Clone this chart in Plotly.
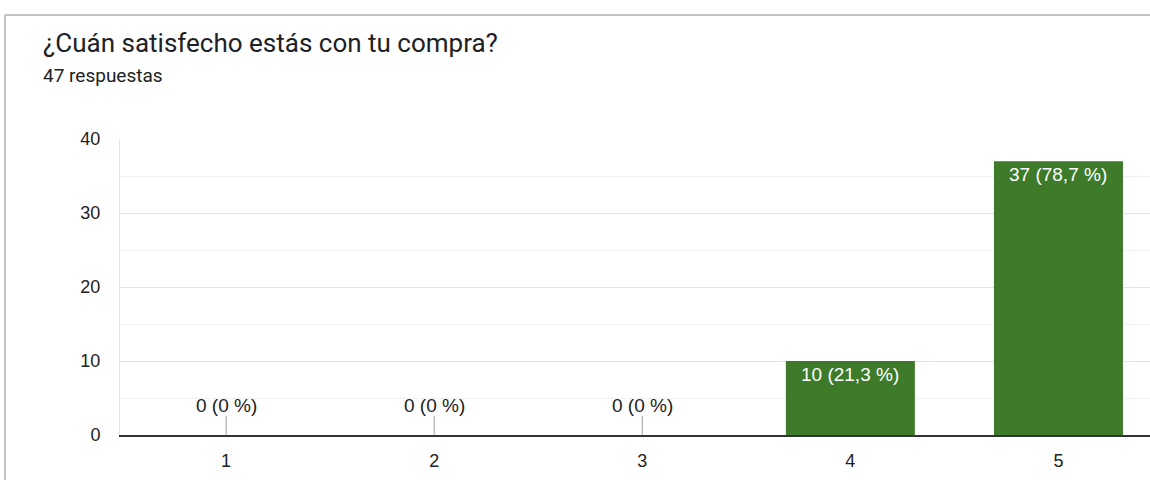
import plotly.graph_objects as go

# Datos del formulario
categorias = [1, 2, 3, 4, 5]
respuestas = [0, 0, 0, 10, 37]
etiquetas = ["0 (0 %)", "0 (0 %)", "0 (0 %)", "10 (21,3 %)", "37 (78,7 %)"]
titulo = "¿Cuán satisfecho estás con tu compra?"
subtitulo = "47 respuestas"

_BAR = "#3d7a2a"
_TEXT = "#222222"
_BORDER = "#c4c4c4"

# Plot area in pixels: x 120..1150, y 139..435
W, H = 1150, 480
L, T, B = 120, 139, 45
pw, ph = W - L, H - T - B


def px_x(x):
    return (x - L) / pw


def px_y(y):
    return (H - B - y) / ph


fig = go.Figure()

fig.add_trace(
    go.Bar(
        x=categorias,
        y=respuestas,
        width=0.62,
        marker={"color": _BAR, "line": {"width": 0}},
        hoverinfo="skip",
    )
)

# Small stems for empty categories
for c, v in zip(categorias, respuestas):
    if v == 0:
        fig.add_trace(
            go.Scatter(
                x=[c, c],
                y=[0, 2.6],
                mode="lines",
                line={"color": "#9e9e9e", "width": 1},
                hoverinfo="skip",
            )
        )

for c, v, lab in zip(categorias, respuestas, etiquetas):
    if v == 0:
        fig.add_annotation(
            x=c, y=v, text=lab, showarrow=False, yanchor="bottom", yshift=17,
            font={"size": 19, "color": _TEXT, "family": "Liberation Sans, Arial"},
        )
    else:
        fig.add_annotation(
            x=c, y=v, text=lab, showarrow=False, yanchor="top", yshift=-1,
            font={"size": 19, "color": "white", "family": "Liberation Sans, Arial"},
        )

# Title and subtitle
fig.add_annotation(
    xref="paper", yref="paper", x=px_x(41), y=px_y(43), text=titulo,
    showarrow=False, xanchor="left", yanchor="middle",
    font={"size": 26, "color": "#202124", "family": "Roboto"},
)
fig.add_annotation(
    xref="paper", yref="paper", x=px_x(41), y=px_y(75), text=subtitulo,
    showarrow=False, xanchor="left", yanchor="middle",
    font={"size": 19, "color": "#202124", "family": "Roboto"},
)

# Card border (top and left edges)
fig.add_shape(type="line", xref="paper", yref="paper",
              x0=px_x(5), x1=1.0, y0=px_y(15), y1=px_y(15),
              line={"color": _BORDER, "width": 2})
fig.add_shape(type="line", xref="paper", yref="paper",
              x0=px_x(5), x1=px_x(5), y0=px_y(15), y1=px_y(480),
              line={"color": _BORDER, "width": 2})

fig.update_layout(
    width=W,
    height=H,
    margin={"l": L, "r": 0, "t": T, "b": B},
    showlegend=False,
    plot_bgcolor="white",
    paper_bgcolor="white",
    font={"family": "Liberation Sans, Arial", "size": 18, "color": "#444444"},
    bargap=0.38,
)
fig.update_xaxes(
    range=[0.49, 5.44],
    tickvals=categorias,
    ticktext=[str(c) for c in categorias],
    showgrid=False,
    zeroline=False,
    showline=True,
    linecolor="#333333",
    linewidth=2,
    ticks="",
    ticklabelstandoff=8,
    tickfont={"color": "#222222"},
)
fig.update_yaxes(
    range=[0, 40],
    tickvals=[0, 10, 20, 30, 40],
    showgrid=True,
    gridcolor="#e4e4e4",
    gridwidth=1,
    minor={"dtick": 5, "showgrid": True, "gridcolor": "#f1f1f1"},
    zeroline=False,
    showline=True,
    linecolor="#e4e4e4",
    linewidth=1,
    ticks="",
    ticklabelstandoff=15,
    tickfont={"color": "#222222"},
)

fig.write_html(
    "out.html",
    config={"displayModeBar": False},
    post_script="document.body.style.margin='0px';",
)
